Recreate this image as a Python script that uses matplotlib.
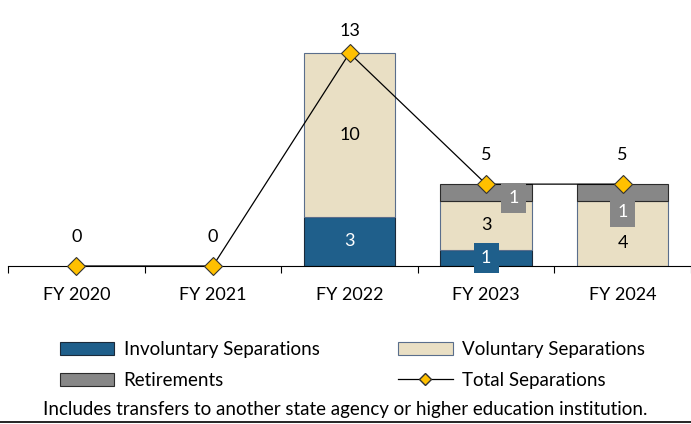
import matplotlib.pyplot as plt
from matplotlib.patches import Patch
from matplotlib.lines import Line2D

plt.rcParams['font.family'] = ['Lato', 'DejaVu Sans']

years = ['FY 2020', 'FY 2021', 'FY 2022', 'FY 2023', 'FY 2024']
involuntary = [0, 0, 3, 1, 0]
voluntary = [0, 0, 10, 3, 4]
retirements = [0, 0, 0, 1, 1]
total = [0, 0, 13, 5, 5]

c_inv = '#1F5F8B'
c_vol = '#E9DFC4'
c_ret = '#878787'
c_tot = '#FFC000'

fig = plt.figure(figsize=(6.91, 4.24), dpi=100)
ax = fig.add_axes([8 / 691, 1 - 266 / 424, 683 / 691, 262 / 424])

x = list(range(len(years)))
w = 0.67
bottom_vol = involuntary
bottom_ret = [a + b for a, b in zip(involuntary, voluntary)]


def stack(vals, bottoms, color, edge):
    idx = [i for i in x if vals[i] > 0]
    ax.bar(idx, [vals[i] for i in idx], w, bottom=[bottoms[i] for i in idx],
           color=color, edgecolor=edge, linewidth=0.8, zorder=2)


stack(involuntary, [0] * 5, c_inv, '#1B2A3A')
stack(voluntary, bottom_vol, c_vol, '#5A6E8C')
stack(retirements, bottom_ret, c_ret, '#2B2B2B')
ax.plot(x, total, color='black', linewidth=0.9, marker='D', markersize=9,
        markerfacecolor=c_tot, markeredgecolor='#333333', markeredgewidth=0.8,
        zorder=4, clip_on=False)

fs = 13
for i in x:
    # total labels, the tallest one sits a bit closer to its marker
    dy_tot = 16 if total[i] == max(total) else 21
    ax.annotate(str(total[i]), (i, total[i]), xytext=(0, dy_tot), textcoords='offset points',
                ha='center', va='center', fontsize=fs, color='black')
    if involuntary[i] >= 2:
        ax.text(i, involuntary[i] / 2, str(involuntary[i]), ha='center', va='center',
                fontsize=fs, color='white', zorder=5)
    elif involuntary[i] == 1:
        ax.annotate('1', (i, involuntary[i] / 2), xytext=(0, 0), textcoords='offset points',
                    ha='center', va='center', fontsize=fs, color='white', zorder=5,
                    bbox=dict(boxstyle='square,pad=0.4', fc=c_inv, ec='none'))
    if voluntary[i] > 0:
        off = -7 if retirements[i] and not involuntary[i] else 0
        ax.annotate(str(voluntary[i]), (i, bottom_vol[i] + voluntary[i] / 2), xytext=(0, off),
                    textcoords='offset points', ha='center', va='center', fontsize=fs,
                    color='black', zorder=5)
    if retirements[i] > 0:
        dx = 20 if involuntary[i] else 0
        dy = -4 if involuntary[i] else -14
        ax.annotate(str(retirements[i]), (i, bottom_ret[i] + retirements[i] / 2), xytext=(dx, dy),
                    textcoords='offset points', ha='center', va='center', fontsize=fs,
                    color='white', zorder=5,
                    bbox=dict(boxstyle='square,pad=0.4', fc=c_ret, ec='none'))

ax.set_xlim(-0.5, 4.5)
ax.set_ylim(0, 16)
ax.set_yticks([])
ax.set_xticks([i + 0.5 for i in range(-1, 5)], minor=True)
ax.set_xticks(x)
ax.set_xticklabels(years, fontsize=fs)
ax.tick_params(axis='x', which='major', length=0, pad=15)
ax.tick_params(axis='x', which='minor', length=5, width=0.8, direction='out')
for s in ['top', 'right', 'left']:
    ax.spines[s].set_visible(False)
ax.spines['bottom'].set_linewidth(0.8)

handles = [
    Patch(facecolor=c_inv, edgecolor='#1B2A3A', linewidth=0.8, label='Involuntary Separations'),
    Patch(facecolor=c_ret, edgecolor='#2B2B2B', linewidth=0.8, label='Retirements'),
    Patch(facecolor=c_vol, edgecolor='#5A6E8C', linewidth=0.8, label='Voluntary Separations'),
    Line2D([], [], color='black', linewidth=0.9, marker='D', markersize=6,
           markerfacecolor=c_tot, markeredgecolor='#333333', label='Total Separations'),
]
fig.legend(handles=handles, ncol=2, loc='center', bbox_to_anchor=(0.51, 1 - 365 / 424),
           frameon=False, fontsize=13.5, handlelength=2.9, handleheight=0.75,
           columnspacing=4.2, labelspacing=0.75, handletextpad=0.5)

fig.text(0.5, 1 - 410 / 424, 'Includes transfers to another state agency or higher education institution.',
         ha='center', va='center', fontsize=13.5)
fig.add_artist(Line2D([0, 1], [1 - 422 / 424, 1 - 422 / 424], color='black', linewidth=1.2,
                      transform=fig.transFigure))

fig.savefig('out.png', dpi=100)
